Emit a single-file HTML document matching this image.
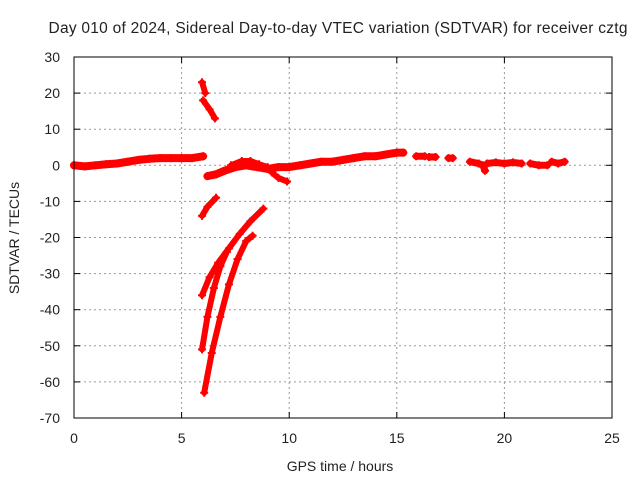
<!DOCTYPE html>
<html><head><meta charset="utf-8"><style>
body{margin:0;background:#fff}
svg text{font-family:"Liberation Sans",sans-serif;font-size:14px;fill:#222}
</style></head><body>
<svg id="c" width="640" height="480" xmlns="http://www.w3.org/2000/svg">
<rect width="640" height="480" fill="#fff"/>
<text x="338" y="33" text-anchor="middle" textLength="579" style="font-size:15.5px">Day 010 of 2024, Sidereal Day-to-day VTEC variation (SDTVAR) for receiver cztg</text>
<text x="0" y="0" transform="translate(19,238) rotate(-90)" text-anchor="middle">SDTVAR / TECUs</text>
<text x="340" y="471" text-anchor="middle">GPS time / hours</text>
<g id="grid"></g><g id="marks"></g>
<rect x="74" y="57" width="538" height="361" fill="none" stroke="#000" stroke-width="1"/>
</svg>
<script>
const xTicks=[0,5,10,15,20,25];
const yTicks=[30,20,10,0,-10,-20,-30,-40,-50,-60,-70];
const segBase=[[0,0],[0.5,-0.3],[1,0],[1.5,0.3],[2,0.5],[2.5,1],[3,1.5],[3.5,1.8],[4,2],[4.5,2],[5,2],[5.5,2],[6,2.5]];
const segMid=[[6.2,-3],[6.6,-2.5],[7,-1.5],[7.5,-0.5],[8,0],[8.5,-0.5],[9,-1],[9.5,-0.5],[10,-0.5],[10.5,0],[11,0.5],[11.5,1],[12,1],[12.5,1.5],[13,2],[13.5,2.5],[14,2.5],[14.5,3],[15,3.5],[15.3,3.5]];
const segLobe=[[7.3,0],[7.8,1.2],[8.2,1.2],[8.6,0.3],[9,-0.5]];
const segBump=[[9.2,-2],[9.5,-3.5],[9.9,-4.5]];
const segTop1=[[5.95,23],[6.1,20]];
const segTop2=[[6.0,18],[6.3,15.5],[6.55,13]];
const segNeg=[[5.95,-14],[6.2,-11.5],[6.6,-9]];
const curveA=[[5.95,-36],[6.3,-31],[6.7,-27],[7.2,-23],[7.7,-19],[8.2,-15.5],[8.8,-12]];
const curveB=[[5.95,-51],[6.2,-42],[6.5,-34],[6.8,-28],[7.1,-24]];
const curveC=[[6.05,-63],[6.4,-52],[6.8,-42],[7.2,-33],[7.6,-26],[8.0,-21],[8.3,-19.5]];
const tail1=[[15.9,2.5],[16.3,2.5]];
const tail2=[[16.5,2.3],[16.8,2.3]];
const tail3=[[17.4,2],[17.6,2]];
const tail4=[[18.4,1],[18.8,0.5],[19,0],[19.1,-1.5]];
const tail5=[[19.2,0.5],[19.6,0.8],[20,0.5],[20.4,0.8],[20.8,0.5]];
const tail6=[[21.2,0.5],[21.6,0],[22,0]];
const tail7=[[22.2,1],[22.5,0.5],[22.8,1]];
const X=h=>74+h*538/25, Y=v=>57+(30-v)*361/100;
const ns='http://www.w3.org/2000/svg';
const grid=document.getElementById('grid'), marks=document.getElementById('marks');
function mk(t,a,p){const e=document.createElementNS(ns,t);for(const k in a)e.setAttribute(k,a[k]);p.appendChild(e);return e;}
xTicks.forEach(t=>{
 if(t>0&&t<25){const l=mk('line',{x1:X(t),x2:X(t),y1:57,y2:418,stroke:'#999','stroke-dasharray':'2,3'},grid);
 
 }
 mk('line',{x1:X(t),x2:X(t),y1:418,y2:412,stroke:'#000'},grid);
 mk('line',{x1:X(t),x2:X(t),y1:57,y2:63,stroke:'#000'},grid);
 const tx=mk('text',{x:X(t),y:443,'text-anchor':'middle'},grid);tx.textContent=t;
 
 
});
yTicks.forEach(t=>{
 if(t<30&&t>-70){const l=mk('line',{x1:74,x2:612,y1:Y(t),y2:Y(t),stroke:'#999','stroke-dasharray':'2,3'},grid);
 
 }
 mk('line',{x1:74,x2:80,y1:Y(t),y2:Y(t),stroke:'#000'},grid);
 mk('line',{x1:606,x2:612,y1:Y(t),y2:Y(t),stroke:'#000'},grid);
 const tx=mk('text',{x:60,y:Y(t)+5,'text-anchor':'end'},grid);tx.textContent=t;
 
 
});
function plus(p){const x=X(p[0]),y=Y(p[1]);
 const g=mk('path',{d:`M${x-4},${y}H${x+4}M${x},${y-4}V${y+4}`,stroke:'#f00','stroke-width':2},marks);
 
 }
function seg(s,w){
 const pl=mk('polyline',{points:s.map(p=>X(p[0])+','+Y(p[1])).join(' '),fill:'none',stroke:'#f00','stroke-width':w,'stroke-linecap':'round','stroke-linejoin':'round'},marks);
 
 
 s.forEach(plus);
}
[segBase,segMid].forEach(s=>seg(s,8));
[segLobe,segBump,segTop1,segTop2,segNeg,curveA,curveB,curveC].forEach(s=>seg(s,6));
[tail1,tail2,tail3,tail4,tail5,tail6,tail7].forEach(s=>seg(s,7));
</script>
</body></html>
